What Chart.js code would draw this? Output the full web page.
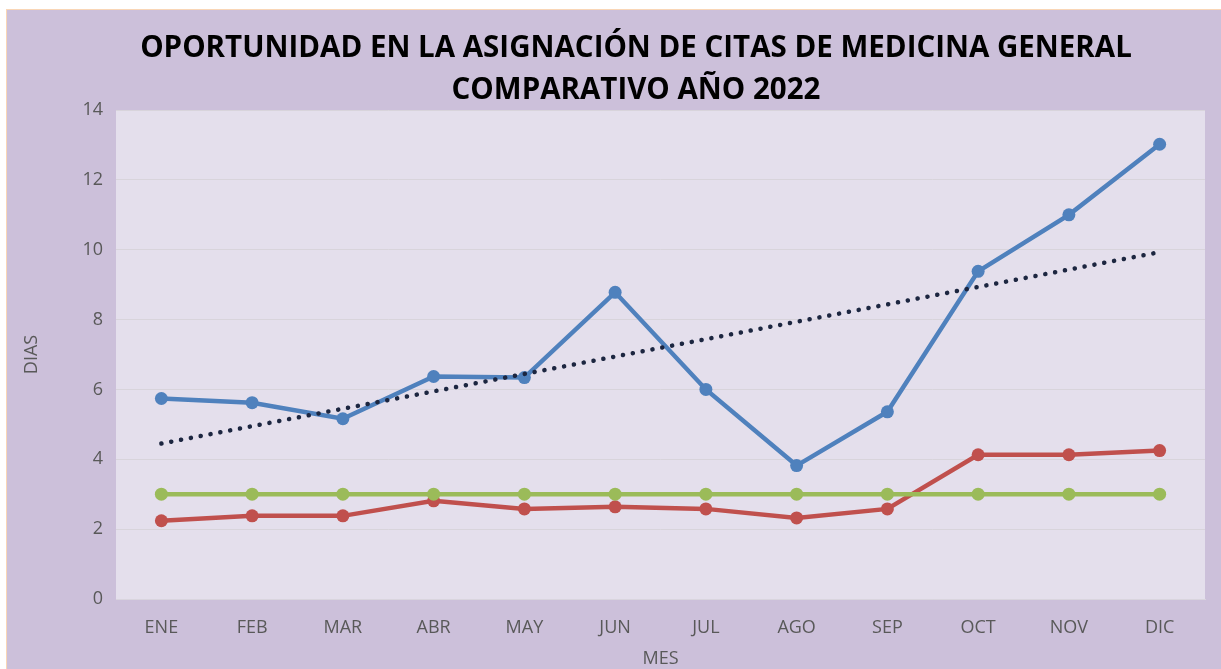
<!DOCTYPE html>
<html>
<head>
<meta charset="utf-8">
<script src="https://cdn.jsdelivr.net/npm/chart.js@4.4.1/dist/chart.umd.min.js"></script>
<style>
    html, body { margin: 0; padding: 0; background: #ffffff; overflow: hidden; }
    #chart-box {
        position: absolute;
        left: 6px;
        top: 9px;
        width: 1258px;
        height: 660px;
        background: #ccc0da;
        border-left: 1px solid #f9d6b6;
        border-top: 1px solid #f9d6b6;
    }
</style>
</head>
<body>
<div id="chart-box">
    <canvas id="myChart" width="1258" height="660"></canvas>
</div>
<script>
// Datos del grafico
const meses = ['ENE', 'FEB', 'MAR', 'ABR', 'MAY', 'JUN', 'JUL', 'AGO', 'SEP', 'OCT', 'NOV', 'DIC'];
const serieAzul = [5.74, 5.62, 5.16, 6.37, 6.34, 8.78, 6.0, 3.82, 5.36, 9.38, 11.0, 13.02];
const serieRoja = [2.24, 2.38, 2.38, 2.81, 2.58, 2.64, 2.58, 2.32, 2.58, 4.13, 4.13, 4.25];
const serieVerde = [3, 3, 3, 3, 3, 3, 3, 3, 3, 3, 3, 3];
// linea de tendencia (solo extremos)
const tendencia = [4.45, null, null, null, null, null, null, null, null, null, null, 9.93];
const yTicks = [0, 2, 4, 6, 8, 10, 12, 14];

// Fondo del area de trazado
const plotBackground = {
    id: 'plotBackground',
    beforeDraw(chart) {
        const { ctx, chartArea } = chart;
        ctx.save();
        ctx.fillStyle = '#e4dfec';
        ctx.fillRect(chartArea.left, chartArea.top, chartArea.right - chartArea.left, chartArea.bottom - chartArea.top);
        ctx.restore();
    }
};

// el titulo va centrado en todo el ancho, no solo dentro del padding
const titleShift = {
    id: 'titleShift',
    afterLayout(chart) {
        const t = chart.titleBlock;
        if (!t) return;
        t.left += 25;
        t.right += 25;
        t.top += 2;
        t.bottom += 2;
    }
};

const tickFont = { family: 'Open Sans', size: 18 };

const ctx = document.getElementById('myChart').getContext('2d');
window.myChart = new Chart(ctx, {
    type: 'line',
    data: {
        labels: meses,
        datasets: [
            {
                label: 'Tendencia',
                data: tendencia,
                spanGaps: true,
                borderColor: '#1c2640',
                borderWidth: 4.5,
                borderDash: [0.1, 9.9],
                borderCapStyle: 'round',
                pointRadius: 0,
                fill: false
            },
            {
                label: 'Serie 1',
                data: serieAzul,
                borderColor: '#4f81bd',
                backgroundColor: '#4f81bd',
                borderWidth: 4.5,
                pointRadius: 6.5,
                pointBorderWidth: 0,
                fill: false
            },
            {
                label: 'Serie 3',
                data: serieVerde,
                borderColor: '#9bbb59',
                backgroundColor: '#9bbb59',
                borderWidth: 4.5,
                pointRadius: 6.5,
                pointBorderWidth: 0,
                fill: false
            },
            {
                label: 'Serie 2',
                data: serieRoja,
                borderColor: '#c0504d',
                backgroundColor: '#c0504d',
                borderWidth: 4.5,
                pointRadius: 6.5,
                pointBorderWidth: 0,
                fill: false
            }
        ]
    },
    options: {
        responsive: false,
        animation: false,
        layout: { padding: { left: 10, right: 60, top: 0, bottom: 0 } },
        plugins: {
            legend: { display: false },
            tooltip: { enabled: false },
            title: {
                display: true,
                text: ['OPORTUNIDAD EN LA ASIGNACIÓN DE CITAS DE MEDICINA GENERAL', 'COMPARATIVO AÑO 2022'],
                color: '#000000',
                font: { family: 'Open Sans', size: 29.5, weight: 'bold', lineHeight: '42px' },
                padding: { top: 16, bottom: 0 }
            }
        },
        scales: {
            x: {
                offset: true,
                afterFit(scale) { scale.height = 71; },
                grid: { display: false, drawTicks: false },
                border: { display: true, color: '#d9d5de', width: 1 },
                ticks: { color: '#595959', font: tickFont, padding: 18 },
                title: {
                    display: true,
                    text: 'MES',
                    color: '#595959',
                    font: tickFont,
                    padding: { top: 0, bottom: 0 }
                }
            },
            y: {
                min: 0,
                max: 14,
                afterFit(scale) { scale.width = 99; },
                afterBuildTicks(scale) { scale.ticks = yTicks.map(v => ({ value: v })); },
                grid: { color: '#d8d4db', lineWidth: 1, drawTicks: false },
                border: { display: false },
                ticks: { color: '#595959', font: tickFont, padding: 13 },
                title: {
                    display: true,
                    text: 'DIAS',
                    color: '#595959',
                    font: tickFont,
                    padding: { top: 4, bottom: 4 }
                }
            }
        }
    },
    plugins: [plotBackground, titleShift]
});
</script>
</body>
</html>
